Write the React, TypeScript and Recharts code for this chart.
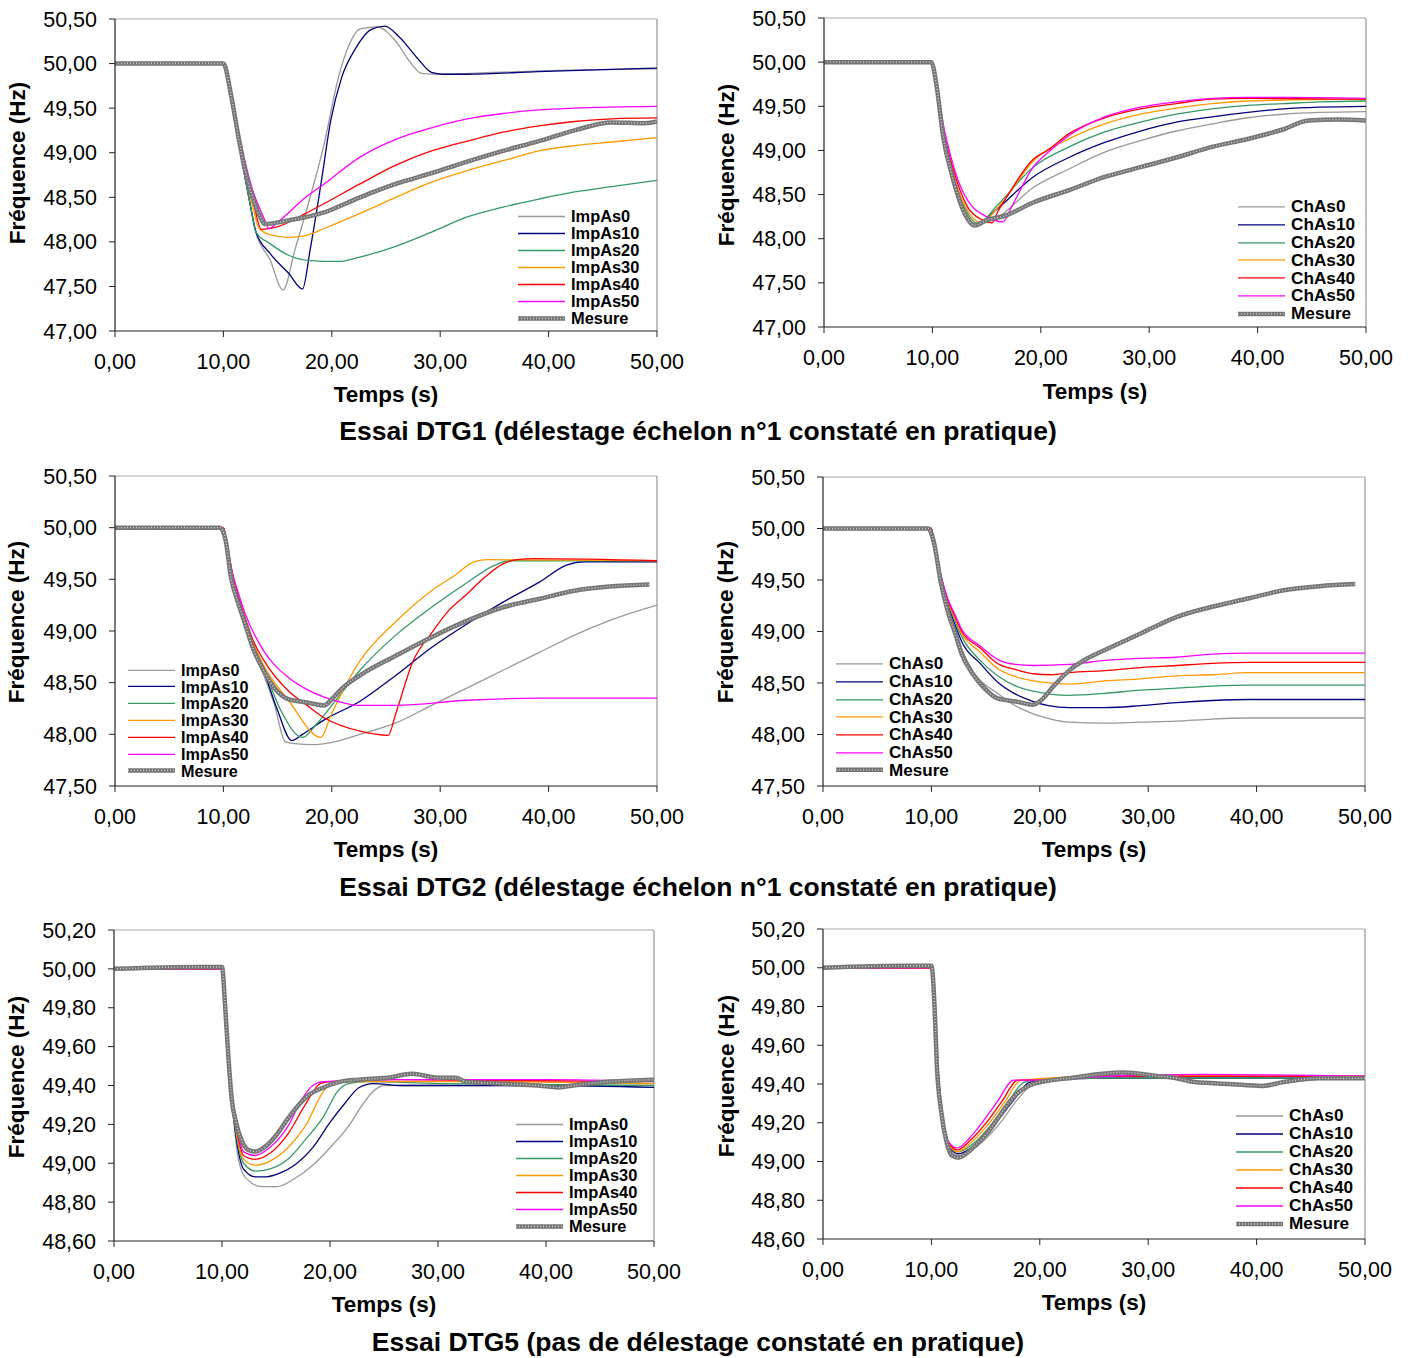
import React from 'react';
import { LineChart, Line, XAxis, YAxis, ReferenceLine } from 'recharts';

type Pt = [number, number];

const FONT = '"Liberation Sans", Arial, sans-serif';

const timeTicks = [0, 10, 20, 30, 40, 50];
const freqTicksDTG1 = [47, 47.5, 48, 48.5, 49, 49.5, 50, 50.5];
const freqTicksDTG2 = [47.5, 48, 48.5, 49, 49.5, 50, 50.5];
const freqTicksDTG5 = [48.6, 48.8, 49, 49.2, 49.4, 49.6, 49.8, 50, 50.2];

const impNames = ['ImpAs0', 'ImpAs10', 'ImpAs20', 'ImpAs30', 'ImpAs40', 'ImpAs50'];
const chNames = ['ChAs0', 'ChAs10', 'ChAs20', 'ChAs30', 'ChAs40', 'ChAs50'];
const seriesColors = ['#999999', '#000080', '#339966', '#FF9900', '#FF0000', '#FF00FF'];

const mainTitles = [
  'Essai DTG1 (délestage échelon n°1 constaté en pratique)',
  'Essai DTG2 (délestage échelon n°1 constaté en pratique)',
  'Essai DTG5 (pas de délestage constaté en pratique)',
];
const xTitle = 'Temps (s)';
const yTitle = 'Fréquence (Hz)';
const mesureName = 'Mesure';

// ---------- DTG1, ImpAs ----------
const dtg1Mesure: Pt[] = [[0, 50], [5, 50.0], [10, 50], [10.7, 49.65], [11.4, 49.17], [12, 48.8], [12.7, 48.5], [13.4, 48.28], [13.8, 48.2], [16, 48.24], [19.3, 48.33], [22.6, 48.5], [25.9, 48.65], [29.2, 48.77], [32.5, 48.9], [35.8, 49.02], [39.1, 49.13], [42.4, 49.25], [45.8, 49.34], [48.9, 49.33], [50, 49.35]];
const dtg1Imp0: Pt[] = [[0, 50], [10, 50], [10.6, 49.7], [11.3, 49.2], [12, 48.72], [12.5, 48.4], [13, 48.11], [14.3, 47.8], [15.5, 47.46], [16.6, 47.91], [18, 48.5], [19.3, 49.1], [20.6, 49.84], [21.6, 50.21], [22.6, 50.39], [24.2, 50.41], [25.9, 50.25], [27.2, 50.02], [28.3, 49.89], [29.8, 49.88], [35, 49.9], [40, 49.92], [50, 49.94]];
const dtg1Imp10: Pt[] = [[0, 50], [10, 50], [10.6, 49.7], [11.3, 49.2], [12, 48.72], [12.5, 48.4], [13, 48.11], [14.3, 47.87], [16, 47.65], [17.3, 47.47], [18, 47.91], [19, 48.65], [19.9, 49.36], [20.9, 49.84], [22.2, 50.17], [23.6, 50.38], [24.9, 50.42], [26.2, 50.3], [27.9, 50.06], [29.2, 49.9], [30.2, 49.88], [32.5, 49.88], [39, 49.91], [50, 49.95]];
const dtg1Imp20: Pt[] = [[0, 50], [10, 50], [10.6, 49.7], [11.3, 49.2], [12, 48.72], [12.5, 48.4], [13, 48.11], [14.3, 47.98], [16, 47.85], [18, 47.79], [20.6, 47.78], [22.6, 47.83], [25.9, 47.95], [29.2, 48.11], [32.5, 48.28], [35.8, 48.39], [39.1, 48.48], [42.4, 48.56], [45.8, 48.62], [50, 48.69]];
const dtg1Imp30: Pt[] = [[0, 50], [10, 50], [10.6, 49.7], [11.3, 49.22], [12, 48.78], [12.6, 48.45], [13.3, 48.15], [14.3, 48.08], [16, 48.05], [17.6, 48.07], [19.3, 48.15], [22.6, 48.32], [25.9, 48.5], [29.2, 48.67], [32.5, 48.8], [35.8, 48.91], [39.1, 49.02], [42.4, 49.08], [45.8, 49.12], [50, 49.17]];
const dtg1Imp40: Pt[] = [[0, 50], [10, 50], [10.6, 49.7], [11.3, 49.24], [12, 48.82], [12.7, 48.48], [13.5, 48.14], [15, 48.17], [17.6, 48.32], [19.3, 48.43], [22.6, 48.65], [25.9, 48.86], [29.2, 49.02], [32.5, 49.13], [35.8, 49.23], [39.1, 49.3], [42.4, 49.35], [45.8, 49.38], [50, 49.39]];
const dtg1Imp50: Pt[] = [[0, 50], [10, 50], [10.6, 49.72], [11.3, 49.3], [12, 48.9], [12.7, 48.58], [13.7, 48.28], [14.2, 48.15], [15, 48.22], [17.6, 48.5], [19.3, 48.65], [22.6, 48.95], [25.9, 49.15], [29.2, 49.28], [32.5, 49.38], [35.8, 49.44], [39.1, 49.48], [42.4, 49.5], [50, 49.52]];

// ---------- DTG1, ChAs ----------
const dtg1ChMesure: Pt[] = [[0, 50], [9.9, 50], [10.4, 49.72], [11, 49.15], [11.7, 48.77], [12.4, 48.47], [13, 48.28], [13.9, 48.15], [15, 48.21], [16.7, 48.26], [19.3, 48.41], [22.6, 48.55], [25.9, 48.7], [29.2, 48.81], [32.5, 48.92], [35.8, 49.04], [39.1, 49.13], [42.4, 49.24], [44.7, 49.34], [47.4, 49.35], [50, 49.34]];
const dtg1Ch0: Pt[] = [[0, 50], [10, 50], [10.4, 49.72], [11, 49.18], [11.7, 48.8], [12.4, 48.5], [13, 48.3], [13.9, 48.16], [16, 48.24], [19.3, 48.58], [22.6, 48.79], [25.9, 48.98], [29.2, 49.11], [32.5, 49.22], [35.8, 49.3], [39.1, 49.37], [42.4, 49.41], [45.7, 49.43], [50, 49.44]];
const dtg1Ch10: Pt[] = [[0, 50], [10, 50], [10.4, 49.72], [11, 49.18], [11.7, 48.8], [12.4, 48.5], [13, 48.3], [14, 48.16], [16, 48.34], [19.3, 48.7], [22.6, 48.92], [25.9, 49.09], [29.2, 49.22], [32.5, 49.32], [35.8, 49.38], [39.1, 49.43], [42.4, 49.47], [45.7, 49.49], [50, 49.5]];
const dtg1Ch20: Pt[] = [[0, 50], [10, 50], [10.4, 49.72], [11, 49.2], [11.7, 48.82], [12.4, 48.52], [13.1, 48.32], [14.2, 48.17], [16, 48.38], [19.3, 48.81], [22.6, 49.04], [25.9, 49.21], [29.2, 49.32], [32.5, 49.41], [35.8, 49.47], [39.1, 49.51], [42.4, 49.53], [45.7, 49.55], [50, 49.56]];
const dtg1Ch30: Pt[] = [[0, 50], [10, 50], [10.4, 49.73], [11, 49.22], [11.7, 48.85], [12.4, 48.55], [13.2, 48.33], [14.5, 48.18], [16, 48.35], [17, 48.5], [19.3, 48.88], [22.6, 49.13], [25.9, 49.3], [29.2, 49.41], [32.5, 49.48], [35.8, 49.53], [39.1, 49.56], [42.4, 49.57], [50, 49.58]];
const dtg1Ch40: Pt[] = [[0, 50], [10, 50], [10.4, 49.74], [11, 49.25], [11.7, 48.88], [12.4, 48.6], [13.3, 48.35], [14.5, 48.22], [15.5, 48.18], [16, 48.3], [17, 48.5], [19.3, 48.9], [20.6, 49.0], [22.6, 49.19], [25.9, 49.37], [29.2, 49.47], [32.5, 49.53], [35.8, 49.58], [39.1, 49.59], [50, 49.58]];
const dtg1Ch50: Pt[] = [[0, 50], [10, 50], [10.4, 49.75], [11, 49.3], [11.7, 48.93], [12.4, 48.65], [13.7, 48.36], [14.7, 48.27], [16.5, 48.19], [17.3, 48.36], [19.3, 48.81], [20.6, 48.97], [22.6, 49.17], [25.9, 49.38], [29.2, 49.49], [32.5, 49.55], [35.8, 49.59], [39.1, 49.6], [42.4, 49.6], [50, 49.59]];

// ---------- DTG2, ImpAs ----------
const dtg2Mesure: Pt[] = [[0, 50], [9.7, 50], [10.2, 49.88], [10.7, 49.52], [11.4, 49.26], [12, 49.07], [12.7, 48.84], [13.7, 48.62], [14.7, 48.45], [16, 48.34], [17.6, 48.31], [19.3, 48.28], [19.9, 48.33], [20.9, 48.44], [22.6, 48.57], [25.9, 48.76], [29.2, 48.94], [32.5, 49.1], [35.8, 49.23], [39.1, 49.31], [42.4, 49.39], [45.6, 49.43], [49.3, 49.45]];
const dtg2Imp0: Pt[] = [[0, 50], [10, 50], [10.3, 49.85], [10.8, 49.55], [11.4, 49.3], [12, 49.1], [12.7, 48.85], [13.7, 48.58], [14.7, 48.29], [15.7, 47.93], [16.6, 47.91], [18.3, 47.9], [19.9, 47.92], [22.6, 48.0], [25.9, 48.11], [29.2, 48.28], [32.5, 48.45], [35.8, 48.62], [39.1, 48.79], [42.4, 48.96], [45.6, 49.1], [50, 49.25]];
const dtg2Imp10: Pt[] = [[0, 50], [10, 50], [10.3, 49.85], [10.8, 49.55], [11.4, 49.3], [12, 49.1], [12.7, 48.87], [13.7, 48.62], [15, 48.23], [16.3, 47.94], [17.3, 48.0], [19.3, 48.14], [22.6, 48.32], [25.9, 48.57], [29.2, 48.84], [32.5, 49.07], [35.8, 49.28], [39.1, 49.47], [41.7, 49.64], [43.3, 49.67], [50, 49.67]];
const dtg2Imp20: Pt[] = [[0, 50], [10, 50], [10.3, 49.85], [10.8, 49.56], [11.4, 49.31], [12, 49.11], [12.7, 48.88], [13.7, 48.64], [15.3, 48.23], [17.3, 47.97], [18.6, 48.1], [20.6, 48.36], [22.6, 48.62], [25.9, 48.96], [29.2, 49.23], [32.5, 49.47], [35.1, 49.64], [36.4, 49.68], [50, 49.68]];
const dtg2Imp30: Pt[] = [[0, 50], [10, 50], [10.3, 49.85], [10.8, 49.56], [11.4, 49.32], [12, 49.12], [12.7, 48.9], [13.7, 48.67], [16, 48.33], [19, 47.97], [19.9, 48.18], [22.6, 48.71], [25.9, 49.09], [29.2, 49.39], [31.5, 49.55], [33.1, 49.67], [34.4, 49.69], [50, 49.68]];
const dtg2Imp40: Pt[] = [[0, 50], [10, 50], [10.3, 49.86], [10.8, 49.57], [11.4, 49.33], [12, 49.13], [12.7, 48.92], [13.7, 48.72], [16, 48.42], [17.6, 48.29], [19.3, 48.16], [22.6, 48.03], [25.2, 47.99], [25.9, 48.2], [27.5, 48.71], [29.2, 48.98], [30.8, 49.2], [32.5, 49.36], [34.1, 49.52], [35.8, 49.65], [37.1, 49.69], [38.7, 49.7], [50, 49.68]];
const dtg2Imp50: Pt[] = [[0, 50], [10, 50], [10.3, 49.86], [10.8, 49.58], [11.4, 49.36], [12, 49.17], [13.7, 48.81], [16, 48.55], [17.6, 48.44], [19.3, 48.36], [20.9, 48.31], [22.6, 48.28], [25.9, 48.28], [32.5, 48.33], [39.1, 48.35], [50, 48.35]];

// ---------- DTG2, ChAs ----------
const dtg2ChMesure: Pt[] = [[0, 50], [9.7, 50], [10.2, 49.88], [10.9, 49.46], [11.5, 49.2], [12.2, 48.98], [12.8, 48.78], [13.8, 48.59], [14.8, 48.46], [16.1, 48.35], [17.8, 48.32], [19.4, 48.29], [20.1, 48.33], [21.1, 48.45], [22.7, 48.62], [24.4, 48.74], [26, 48.82], [29.3, 48.98], [32.6, 49.14], [35.9, 49.24], [39.2, 49.32], [42.5, 49.4], [45.8, 49.44], [49.1, 49.46]];
const dtg2Ch0: Pt[] = [[0, 50], [10, 50], [10.2, 49.88], [10.9, 49.48], [11.5, 49.24], [12.2, 49.02], [12.8, 48.83], [13.8, 48.62], [16.1, 48.4], [17.9, 48.27], [19.4, 48.2], [21, 48.15], [22.7, 48.12], [26, 48.11], [29.3, 48.12], [32.6, 48.13], [35.9, 48.15], [39.2, 48.16], [50, 48.16]];
const dtg2Ch10: Pt[] = [[0, 50], [10, 50], [10.2, 49.88], [10.9, 49.5], [11.5, 49.27], [12.2, 49.06], [12.8, 48.9], [14.5, 48.69], [16.1, 48.51], [17.8, 48.39], [19.4, 48.32], [20.8, 48.28], [22.7, 48.26], [26, 48.26], [29.3, 48.28], [32.6, 48.31], [35.9, 48.33], [39.2, 48.34], [50, 48.34]];
const dtg2Ch20: Pt[] = [[0, 50], [10, 50], [10.2, 49.88], [10.9, 49.51], [11.5, 49.29], [12.2, 49.1], [12.8, 48.95], [14.5, 48.72], [16.1, 48.57], [17.8, 48.47], [19.4, 48.42], [21.1, 48.39], [22.7, 48.38], [26, 48.4], [29.3, 48.43], [32.6, 48.45], [35.9, 48.47], [39.2, 48.48], [50, 48.48]];
const dtg2Ch30: Pt[] = [[0, 50], [10, 50], [10.2, 49.88], [10.9, 49.52], [11.5, 49.3], [12.2, 49.12], [12.8, 48.98], [14.5, 48.8], [16.1, 48.64], [17.8, 48.56], [19.4, 48.52], [21.1, 48.5], [22.7, 48.49], [26, 48.52], [29.3, 48.54], [32.6, 48.57], [35.9, 48.58], [39.2, 48.6], [50, 48.6]];
const dtg2Ch40: Pt[] = [[0, 50], [10, 50], [10.2, 49.88], [10.9, 49.53], [11.5, 49.31], [12.2, 49.14], [12.8, 49.0], [14.5, 48.84], [16.1, 48.69], [17.8, 48.63], [19.4, 48.59], [21.1, 48.58], [22.7, 48.6], [26, 48.62], [29.3, 48.65], [32.6, 48.67], [35.9, 48.69], [39.2, 48.7], [50, 48.7]];
const dtg2Ch50: Pt[] = [[0, 50], [10, 50], [10.2, 49.88], [10.9, 49.54], [11.5, 49.32], [12.2, 49.16], [12.8, 49.02], [14.5, 48.86], [16.1, 48.73], [17.8, 48.68], [19.4, 48.67], [22.7, 48.68], [26, 48.72], [29.3, 48.74], [32.6, 48.75], [35.9, 48.78], [39.2, 48.79], [50, 48.79]];

// ---------- DTG5, ImpAs ----------
const dtg5Mesure: Pt[] = [[0, 50], [8, 50.01], [10, 50.01], [10.3, 49.8], [10.6, 49.54], [10.9, 49.33], [11.3, 49.21], [11.8, 49.12], [12.4, 49.07], [13.1, 49.06], [14.1, 49.09], [15.1, 49.15], [16.1, 49.23], [17.1, 49.3], [18, 49.35], [19.4, 49.39], [21, 49.42], [22.7, 49.43], [25.3, 49.44], [27.6, 49.46], [30, 49.44], [31.6, 49.44], [32.6, 49.42], [35.9, 49.41], [39.2, 49.4], [41.2, 49.39], [42.5, 49.4], [45.9, 49.42], [50, 49.43]];
const dtg5Imp0: Pt[] = [[0, 50], [10, 50], [10.3, 49.8], [10.6, 49.52], [10.9, 49.33], [11.4, 49.06], [11.9, 48.95], [12.7, 48.9], [13.7, 48.88], [15.1, 48.88], [16.7, 48.92], [18.4, 48.99], [20, 49.08], [21.7, 49.19], [23, 49.3], [24, 49.37], [25, 49.4], [26.7, 49.4], [30, 49.4], [50, 49.4]];
const dtg5Imp10: Pt[] = [[0, 50], [10, 50], [10.3, 49.8], [10.6, 49.52], [10.9, 49.33], [11.4, 49.1], [12, 48.97], [13.1, 48.93], [14.1, 48.93], [15.4, 48.95], [16.7, 48.99], [18.4, 49.08], [20, 49.21], [21.4, 49.31], [22.7, 49.39], [24, 49.41], [26.7, 49.4], [40, 49.4], [50, 49.39]];
const dtg5Imp20: Pt[] = [[0, 50], [10, 50], [10.3, 49.8], [10.6, 49.52], [10.9, 49.33], [11.4, 49.12], [12, 49.0], [13.1, 48.96], [14.4, 48.97], [16.1, 49.02], [17.7, 49.12], [19.4, 49.24], [20.7, 49.37], [21.7, 49.41], [23.4, 49.42], [30, 49.41], [50, 49.4]];
const dtg5Imp30: Pt[] = [[0, 50], [10, 50], [10.3, 49.8], [10.6, 49.53], [10.9, 49.34], [11.4, 49.14], [12, 49.02], [13.1, 48.99], [14.4, 49.01], [16.1, 49.08], [17.7, 49.19], [19.4, 49.37], [20.4, 49.42], [22.7, 49.42], [33, 49.42], [50, 49.41]];
const dtg5Imp40: Pt[] = [[0, 50], [10, 50], [10.3, 49.8], [10.6, 49.53], [10.9, 49.35], [11.4, 49.16], [12, 49.04], [13.1, 49.02], [14.4, 49.05], [16.1, 49.15], [17.7, 49.3], [19.1, 49.41], [20, 49.42], [26, 49.43], [50, 49.42]];
const dtg5Imp50: Pt[] = [[0, 50], [10, 50], [10.3, 49.8], [10.6, 49.54], [10.9, 49.36], [11.4, 49.18], [12, 49.06], [13.1, 49.04], [14.4, 49.08], [16.1, 49.19], [17.4, 49.33], [18.4, 49.4], [19.4, 49.42], [26, 49.43], [40, 49.43], [50, 49.42]];

// ---------- DTG5, ChAs ----------
const dtg5ChMesure: Pt[] = [[0, 50], [8, 50.01], [10, 50.01], [10.3, 49.79], [10.5, 49.5], [10.9, 49.26], [11.4, 49.1], [11.9, 49.03], [12.5, 49.02], [13.2, 49.04], [14.2, 49.09], [15.2, 49.15], [16.1, 49.22], [17.1, 49.3], [18.1, 49.36], [19.4, 49.4], [21.1, 49.42], [22.7, 49.43], [25.4, 49.45], [27.7, 49.46], [31, 49.44], [32.6, 49.43], [34.3, 49.41], [37.5, 49.4], [40.5, 49.39], [42.5, 49.41], [45.8, 49.43], [50, 49.43]];
const dtg5Ch0: Pt[] = [[0, 50], [10, 50], [10.3, 49.8], [10.6, 49.46], [11, 49.22], [11.6, 49.07], [12.6, 49.03], [14, 49.07], [16.5, 49.21], [17.8, 49.31], [19.4, 49.4], [21, 49.42], [26, 49.43], [50, 49.43]];
const dtg5Ch10: Pt[] = [[0, 50], [10, 50], [10.3, 49.8], [10.6, 49.47], [11, 49.23], [11.6, 49.08], [12.5, 49.04], [13.9, 49.08], [16.1, 49.21], [17.5, 49.31], [19.1, 49.41], [21, 49.42], [26, 49.43], [50, 49.43]];
const dtg5Ch20: Pt[] = [[0, 50], [10, 50], [10.3, 49.8], [10.6, 49.47], [11, 49.24], [11.6, 49.09], [12.5, 49.05], [13.8, 49.09], [15.8, 49.21], [17.1, 49.31], [18.6, 49.41], [20, 49.42], [26, 49.43], [50, 49.43]];
const dtg5Ch30: Pt[] = [[0, 50], [10, 50], [10.3, 49.8], [10.6, 49.48], [11, 49.24], [11.6, 49.09], [12.4, 49.05], [13.7, 49.1], [15.5, 49.21], [16.8, 49.31], [18.3, 49.42], [26, 49.44], [50, 49.44]];
const dtg5Ch40: Pt[] = [[0, 50], [10, 50], [10.3, 49.8], [10.6, 49.48], [11, 49.25], [11.6, 49.1], [12.4, 49.06], [13.6, 49.11], [15.2, 49.21], [16.5, 49.31], [18, 49.42], [20, 49.42], [26, 49.44], [50, 49.44]];
const dtg5Ch50: Pt[] = [[0, 50], [10, 50], [10.3, 49.8], [10.6, 49.48], [11, 49.25], [11.6, 49.1], [12.4, 49.07], [13.5, 49.12], [14.8, 49.21], [16.1, 49.31], [17.6, 49.42], [20, 49.42], [26, 49.44], [35, 49.45], [50, 49.44]];

type PanelCfg = {
  names: string[];
  series: Pt[][];
  mesure: Pt[];
  yTicks: number[];
  plot: { left: number; top: number; w: number; h: number };
  legend: { x: number; y: number; step: number };
  xTitleY: number;
  yTitleX: number;
  yTitleY: number;
};

const panels: PanelCfg[] = [
  {
    names: impNames, series: [dtg1Imp0, dtg1Imp10, dtg1Imp20, dtg1Imp30, dtg1Imp40, dtg1Imp50], mesure: dtg1Mesure,
    yTicks: freqTicksDTG1, plot: { left: 115, top: 19, w: 542, h: 312 },
    legend: { x: 518, y: 216, step: 17.0 }, xTitleY: 395, yTitleX: 18, yTitleY: 163,
  },
  {
    names: chNames, series: [dtg1Ch0, dtg1Ch10, dtg1Ch20, dtg1Ch30, dtg1Ch40, dtg1Ch50], mesure: dtg1ChMesure,
    yTicks: freqTicksDTG1, plot: { left: 824, top: 18, w: 542, h: 309 },
    legend: { x: 1238, y: 207, step: 17.8 }, xTitleY: 392, yTitleX: 727, yTitleY: 165,
  },
  {
    names: impNames, series: [dtg2Imp0, dtg2Imp10, dtg2Imp20, dtg2Imp30, dtg2Imp40, dtg2Imp50], mesure: dtg2Mesure,
    yTicks: freqTicksDTG2, plot: { left: 115, top: 476, w: 542, h: 310 },
    legend: { x: 128, y: 670, step: 16.8 }, xTitleY: 850, yTitleX: 17, yTitleY: 622,
  },
  {
    names: chNames, series: [dtg2Ch0, dtg2Ch10, dtg2Ch20, dtg2Ch30, dtg2Ch40, dtg2Ch50], mesure: dtg2ChMesure,
    yTicks: freqTicksDTG2, plot: { left: 823, top: 477, w: 542, h: 309 },
    legend: { x: 836, y: 664, step: 17.7 }, xTitleY: 850, yTitleX: 726, yTitleY: 622,
  },
  {
    names: impNames, series: [dtg5Imp0, dtg5Imp10, dtg5Imp20, dtg5Imp30, dtg5Imp40, dtg5Imp50], mesure: dtg5Mesure,
    yTicks: freqTicksDTG5, plot: { left: 114, top: 930, w: 540, h: 311 },
    legend: { x: 516, y: 1124, step: 17.0 }, xTitleY: 1305, yTitleX: 17, yTitleY: 1077,
  },
  {
    names: chNames, series: [dtg5Ch0, dtg5Ch10, dtg5Ch20, dtg5Ch30, dtg5Ch40, dtg5Ch50], mesure: dtg5ChMesure,
    yTicks: freqTicksDTG5, plot: { left: 823, top: 929, w: 542, h: 310 },
    legend: { x: 1236, y: 1116, step: 18.0 }, xTitleY: 1303, yTitleX: 727, yTitleY: 1076,
  },
];

const mainTitleY = [431, 887, 1342];

const GL = 100, GT = 10, GR = 45, GB = 50;
const fmt = (v: number) => v.toFixed(2).replace('.', ',');
const toData = (pts: Pt[]) => pts.map(([t, v]) => ({ t, v }));

const MESURE_DARK = '#767676';
const MESURE_LIGHT = '#d0d0d0';
const TICK_FONT = 21.5;

function Panel({ cfg }: { cfg: PanelCfg }) {
  const { plot, yTicks } = cfg;
  const yMin = yTicks[0];
  const yMax = yTicks[yTicks.length - 1];
  return (
    <div style={{ position: 'absolute', left: plot.left - GL, top: plot.top - GT }}>
      <LineChart
        width={plot.w + GL + GR}
        height={plot.h + GT + GB}
        margin={{ top: GT, right: GR, left: 0, bottom: 0 }}
      >
        <XAxis
          dataKey="t"
          type="number"
          domain={[0, 50]}
          ticks={timeTicks}
          tickFormatter={fmt}
          interval={0}
          height={GB}
          tickSize={6}
          tickMargin={17}
          allowDataOverflow
          axisLine={{ stroke: '#222', strokeWidth: 1.2 }}
          tickLine={{ stroke: '#222' }}
          tick={{ fill: '#000', fontSize: TICK_FONT, fontFamily: FONT }}
        />
        <YAxis
          type="number"
          domain={[yMin, yMax]}
          ticks={yTicks}
          tickFormatter={fmt}
          interval={0}
          width={GL}
          tickSize={6}
          tickMargin={12}
          allowDataOverflow
          axisLine={{ stroke: '#222', strokeWidth: 1.2 }}
          tickLine={{ stroke: '#222' }}
          tick={{ fill: '#000', fontSize: TICK_FONT, fontFamily: FONT }}
        />
        <ReferenceLine y={yMax} stroke="#aaaaaa" strokeWidth={1} />
        <ReferenceLine x={50} stroke="#808080" strokeWidth={1} />
        {cfg.series.map((s, i) => (
          <Line
            key={cfg.names[i]}
            data={toData(s)}
            dataKey="v"
            type="monotone"
            stroke={seriesColors[i]}
            strokeWidth={1.3}
            dot={false}
            isAnimationActive={false}
          />
        ))}
        <Line data={toData(cfg.mesure)} dataKey="v" type="monotone" stroke={MESURE_DARK} strokeWidth={4.5} dot={false} isAnimationActive={false} />
        <Line data={toData(cfg.mesure)} dataKey="v" type="monotone" stroke={MESURE_LIGHT} strokeWidth={1.4} strokeDasharray="1 2" dot={false} isAnimationActive={false} />
      </LineChart>
    </div>
  );
}

function LegendBox({ cfg }: { cfg: PanelCfg }) {
  const { x, y, step } = cfg.legend;
  const rows = [...cfg.names.map((n, i) => ({ n, c: seriesColors[i], m: false })), { n: mesureName, c: MESURE_DARK, m: true }];
  const fs = Math.min(17.2, step - 0.6);
  return (
    <div style={{ position: 'absolute', left: x, top: y - step / 2 }}>
      {rows.map((r) => (
        <div key={r.n} style={{ display: 'flex', alignItems: 'center', height: step, overflow: 'visible' }}>
          <svg width={53} height={step} style={{ display: 'block', flex: 'none' }}>
            {r.m ? (
              <>
                <line x1={0} x2={47} y1={step / 2} y2={step / 2} stroke={MESURE_DARK} strokeWidth={4.5} />
                <line x1={0} x2={47} y1={step / 2} y2={step / 2} stroke={MESURE_LIGHT} strokeWidth={1.4} strokeDasharray="1 2" />
              </>
            ) : (
              <line x1={0} x2={47} y1={step / 2} y2={step / 2} stroke={r.c} strokeWidth={1.3} />
            )}
          </svg>
          <span style={{ fontFamily: FONT, fontWeight: 'bold', fontSize: fs, lineHeight: `${fs}px`, height: fs, color: '#000', whiteSpace: 'nowrap' }}>{r.n}</span>
        </div>
      ))}
    </div>
  );
}

function AxisTitles({ cfg }: { cfg: PanelCfg }) {
  const cx = cfg.plot.left + cfg.plot.w / 2;
  const common: React.CSSProperties = {
    position: 'absolute', fontFamily: FONT, fontWeight: 'bold', fontSize: 22.5, lineHeight: '26px', height: 26,
    whiteSpace: 'nowrap', color: '#000',
  };
  return (
    <>
      <div style={{ ...common, left: cx - 150, width: 300, textAlign: 'center', top: cfg.xTitleY - 13 }}>{xTitle}</div>
      <div style={{ ...common, left: cfg.yTitleX - 150, width: 300, textAlign: 'center', top: cfg.yTitleY - 13, transform: 'rotate(-90deg)' }}>{yTitle}</div>
    </>
  );
}

export default function App() {
  return (
    <div style={{ position: 'absolute', left: 0, top: 0, width: 1412, height: 1358, background: '#fff', overflow: 'hidden' }}>
      {panels.map((p, i) => (
        <React.Fragment key={i}>
          <Panel cfg={p} />
          <AxisTitles cfg={p} />
          <LegendBox cfg={p} />
        </React.Fragment>
      ))}
      {mainTitles.map((t, i) => (
        <div key={t} style={{ position: 'absolute', left: 0, width: 1396, top: mainTitleY[i] - 15, height: 30, lineHeight: '30px', textAlign: 'center', fontFamily: FONT, fontWeight: 'bold', fontSize: 26.5, color: '#000', whiteSpace: 'nowrap' }}>{t}</div>
      ))}
    </div>
  );
}
